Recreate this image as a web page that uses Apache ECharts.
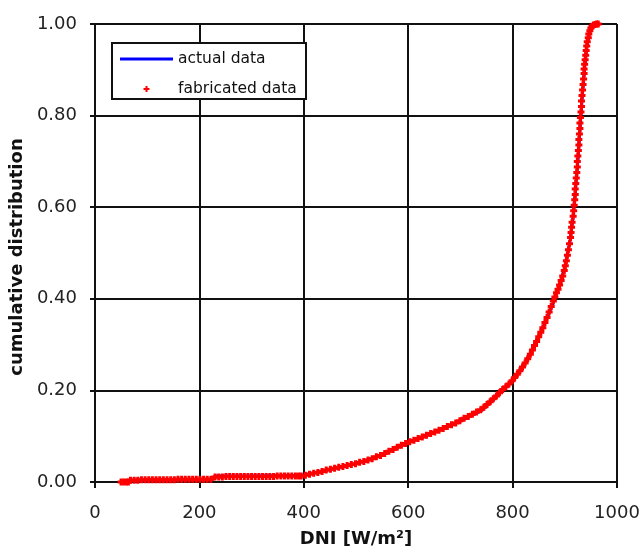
<!DOCTYPE html>
<html>
<head>
<meta charset="utf-8">
<script src="https://cdn.jsdelivr.net/npm/echarts@6/dist/echarts.min.js"></script>
<style>
html,body{margin:0;padding:0;background:#fff;}
#chart{width:644px;height:553px;}
</style>
</head>
<body>
<div id="chart"></div>
<script>
// ---- data ----
const seriesNames = ['actual data', 'fabricated data'];
const xTickValues = [0, 200, 400, 600, 800, 1000];
const yTickValues = [0.0, 0.2, 0.4, 0.6, 0.8, 1.0];

const actualDNI = [55, 65, 70, 150, 225, 230, 300, 385, 395, 420, 460, 500, 540, 580, 620, 660, 700, 740, 760, 780, 800, 820, 840, 860, 880, 890, 900, 910, 916, 920, 925, 930, 934, 938, 942, 947, 955, 964];
const actualCum = [0, 0.003, 0.004, 0.005, 0.006, 0.013, 0.013, 0.014, 0.014, 0.02, 0.03, 0.04, 0.055, 0.076, 0.095, 0.113, 0.133, 0.156, 0.176, 0.199, 0.222, 0.252, 0.295, 0.341, 0.398, 0.43, 0.468, 0.526, 0.58, 0.632, 0.7, 0.785, 0.85, 0.905, 0.948, 0.98, 0.997, 1.0];

const fabricatedDNI = [
  50, 55, 60, 64,
  68, 75, 82, 89, 96, 103, 110, 117, 124, 131, 138, 145, 152, 159, 166, 173, 180, 187, 194, 201, 208, 215, 222,
  230, 237, 244, 251, 258, 265, 272, 279, 286, 293, 300, 307, 314, 321, 328, 335, 342, 349, 356, 363, 370, 377, 384, 390,
  395, 403, 411, 419, 427, 435, 443, 451, 459, 467, 475, 483, 491, 499, 507, 515, 523, 531, 539, 547, 555, 563, 571, 579, 587, 595, 603, 611, 619, 627, 635, 643, 651, 659, 667, 675, 683, 691, 699, 707, 715, 723, 731, 739, 745, 751, 757, 763, 769, 775, 781,
  787, 793, 799, 804, 809, 814, 819, 824, 829, 834, 838, 842, 846, 850, 854, 858, 862, 866, 870, 874, 878, 881, 884, 887, 890, 893, 896, 899, 901, 903, 905, 907, 909, 911, 912, 913, 914, 916, 917, 918, 919,
  920, 920, 921, 922, 923, 924, 924, 925, 926, 927, 927, 928, 929, 929, 930, 931, 932, 932, 933, 934, 935, 936, 937, 937, 938, 939, 940, 941, 942, 943, 945, 946, 948, 950, 952, 955, 958, 961, 964
];
const fabricatedCum = [
  0, 0, 0, 0,
  0.004, 0.004, 0.004, 0.005, 0.005, 0.005, 0.005, 0.005, 0.005, 0.005, 0.005, 0.005, 0.005, 0.006, 0.006, 0.006, 0.006, 0.006, 0.006, 0.006, 0.006, 0.006, 0.006,
  0.011, 0.011, 0.011, 0.012, 0.012, 0.012, 0.012, 0.012, 0.012, 0.012, 0.012, 0.012, 0.012, 0.012, 0.012, 0.012, 0.012, 0.013, 0.013, 0.013, 0.013, 0.013, 0.013, 0.013,
  0.013, 0.015, 0.017, 0.019, 0.021, 0.023, 0.026, 0.028, 0.030, 0.032, 0.034, 0.036, 0.038, 0.040, 0.043, 0.045, 0.048, 0.051, 0.055, 0.058, 0.062, 0.067, 0.071, 0.076, 0.080, 0.084, 0.088, 0.091, 0.095, 0.098, 0.102, 0.106, 0.109, 0.113, 0.117, 0.121, 0.125, 0.129, 0.134, 0.139, 0.143, 0.148, 0.153, 0.158, 0.163, 0.169, 0.175, 0.182, 0.188, 0.195, 0.202,
  0.208, 0.214, 0.221, 0.228, 0.235, 0.243, 0.251, 0.260, 0.269, 0.279, 0.288, 0.298, 0.307, 0.317, 0.327, 0.337, 0.348, 0.359, 0.371, 0.383, 0.395, 0.404, 0.413, 0.421, 0.430, 0.440, 0.450, 0.462, 0.472, 0.483, 0.495, 0.507, 0.520, 0.534, 0.545, 0.556, 0.567, 0.580, 0.592, 0.604, 0.616,
  0.628, 0.640, 0.652, 0.664, 0.676, 0.688, 0.700, 0.712, 0.724, 0.736, 0.748, 0.760, 0.772, 0.784, 0.796, 0.808, 0.820, 0.832, 0.844, 0.856, 0.868, 0.880, 0.892, 0.902, 0.912, 0.922, 0.932, 0.942, 0.952, 0.961, 0.970, 0.978, 0.985, 0.991, 0.995, 0.998, 0.999, 1.0, 1.0
];

// ---- build chart ----
const actualPairs = actualDNI.map((v, i) => [v, actualCum[i]]);
const fabricatedPairs = fabricatedDNI.map((v, i) => [v, fabricatedCum[i]]);

const FONT = 'DejaVu Sans';
const plusPath = 'path://M2,0h3v2h2v3h-2v2h-3v-2h-2v-3h2z';

const chart = echarts.init(document.getElementById('chart'), null, {renderer: 'canvas'});
chart.setOption({
  animation: false,
  backgroundColor: '#ffffff',
  grid: {left: 91, right: 27, top: 24, bottom: 69, containLabel: false},
  xAxis: {
    type: 'value',
    min: xTickValues[0],
    max: xTickValues[xTickValues.length - 1],
    interval: xTickValues[1] - xTickValues[0],
    name: 'DNI [W/m²]',
    nameLocation: 'middle',
    nameGap: 48,
    nameTextStyle: {fontFamily: FONT, fontWeight: 'bold', fontSize: 18, color: '#111'},
    axisLine: {lineStyle: {color: '#111', width: 2}},
    axisTick: {show: true, inside: false, length: 6, lineStyle: {color: '#111', width: 2}},
    axisLabel: {fontFamily: FONT, fontSize: 18, color: '#222', margin: 22, formatter: v => String(v)},
    splitLine: {show: true, lineStyle: {color: '#111', width: 2}}
  },
  yAxis: {
    type: 'value',
    min: yTickValues[0],
    max: yTickValues[yTickValues.length - 1],
    interval: 0.2,
    name: 'cumulative distribution',
    nameLocation: 'middle',
    nameGap: 63,
    nameTextStyle: {fontFamily: FONT, fontWeight: 'bold', fontSize: 18, color: '#111', padding: [0, 8, 0, 0]},
    axisLine: {show: true, lineStyle: {color: '#111', width: 2}},
    axisTick: {show: true, inside: false, length: 5, lineStyle: {color: '#111', width: 2}},
    axisLabel: {fontFamily: FONT, fontSize: 18, color: '#222', margin: 18, formatter: v => v.toFixed(2)},
    splitLine: {show: true, lineStyle: {color: '#111', width: 2}}
  },
  graphic: [{
    type: 'rect',
    z: 3,
    shape: {x: 112, y: 43, width: 194, height: 56},
    style: {fill: '#fff', stroke: '#111', lineWidth: 2}
  }],
  legend: {
    orient: 'vertical',
    left: 120,
    top: 51,
    padding: 0,
    itemWidth: 53,
    itemHeight: 7,
    itemGap: 14,
    z: 5,
    textStyle: {fontFamily: FONT, fontSize: 15.5, color: '#111'},
    data: [
      {name: seriesNames[0], icon: 'path://M0,0M53,7M0,2h53v3h-53z'},
      {name: seriesNames[1], icon: 'path://M0,0M53,7M25.5,0.5h2v2h2v2h-2v2h-2v-2h-2v-2h2z'}
    ]
  },
  series: [
    {
      name: seriesNames[0],
      type: 'line',
      data: actualPairs,
      showSymbol: false,
      symbol: 'none',
      color: '#0000ff',
      lineStyle: {color: '#0000ff', width: 3},
      z: 2
    },
    {
      name: seriesNames[1],
      type: 'scatter',
      data: fabricatedPairs,
      symbol: plusPath,
      symbolSize: 7,
      color: '#ff0000',
      itemStyle: {color: '#ff0000', opacity: 1},
      z: 3
    }
  ]
});
</script>
</body>
</html>
